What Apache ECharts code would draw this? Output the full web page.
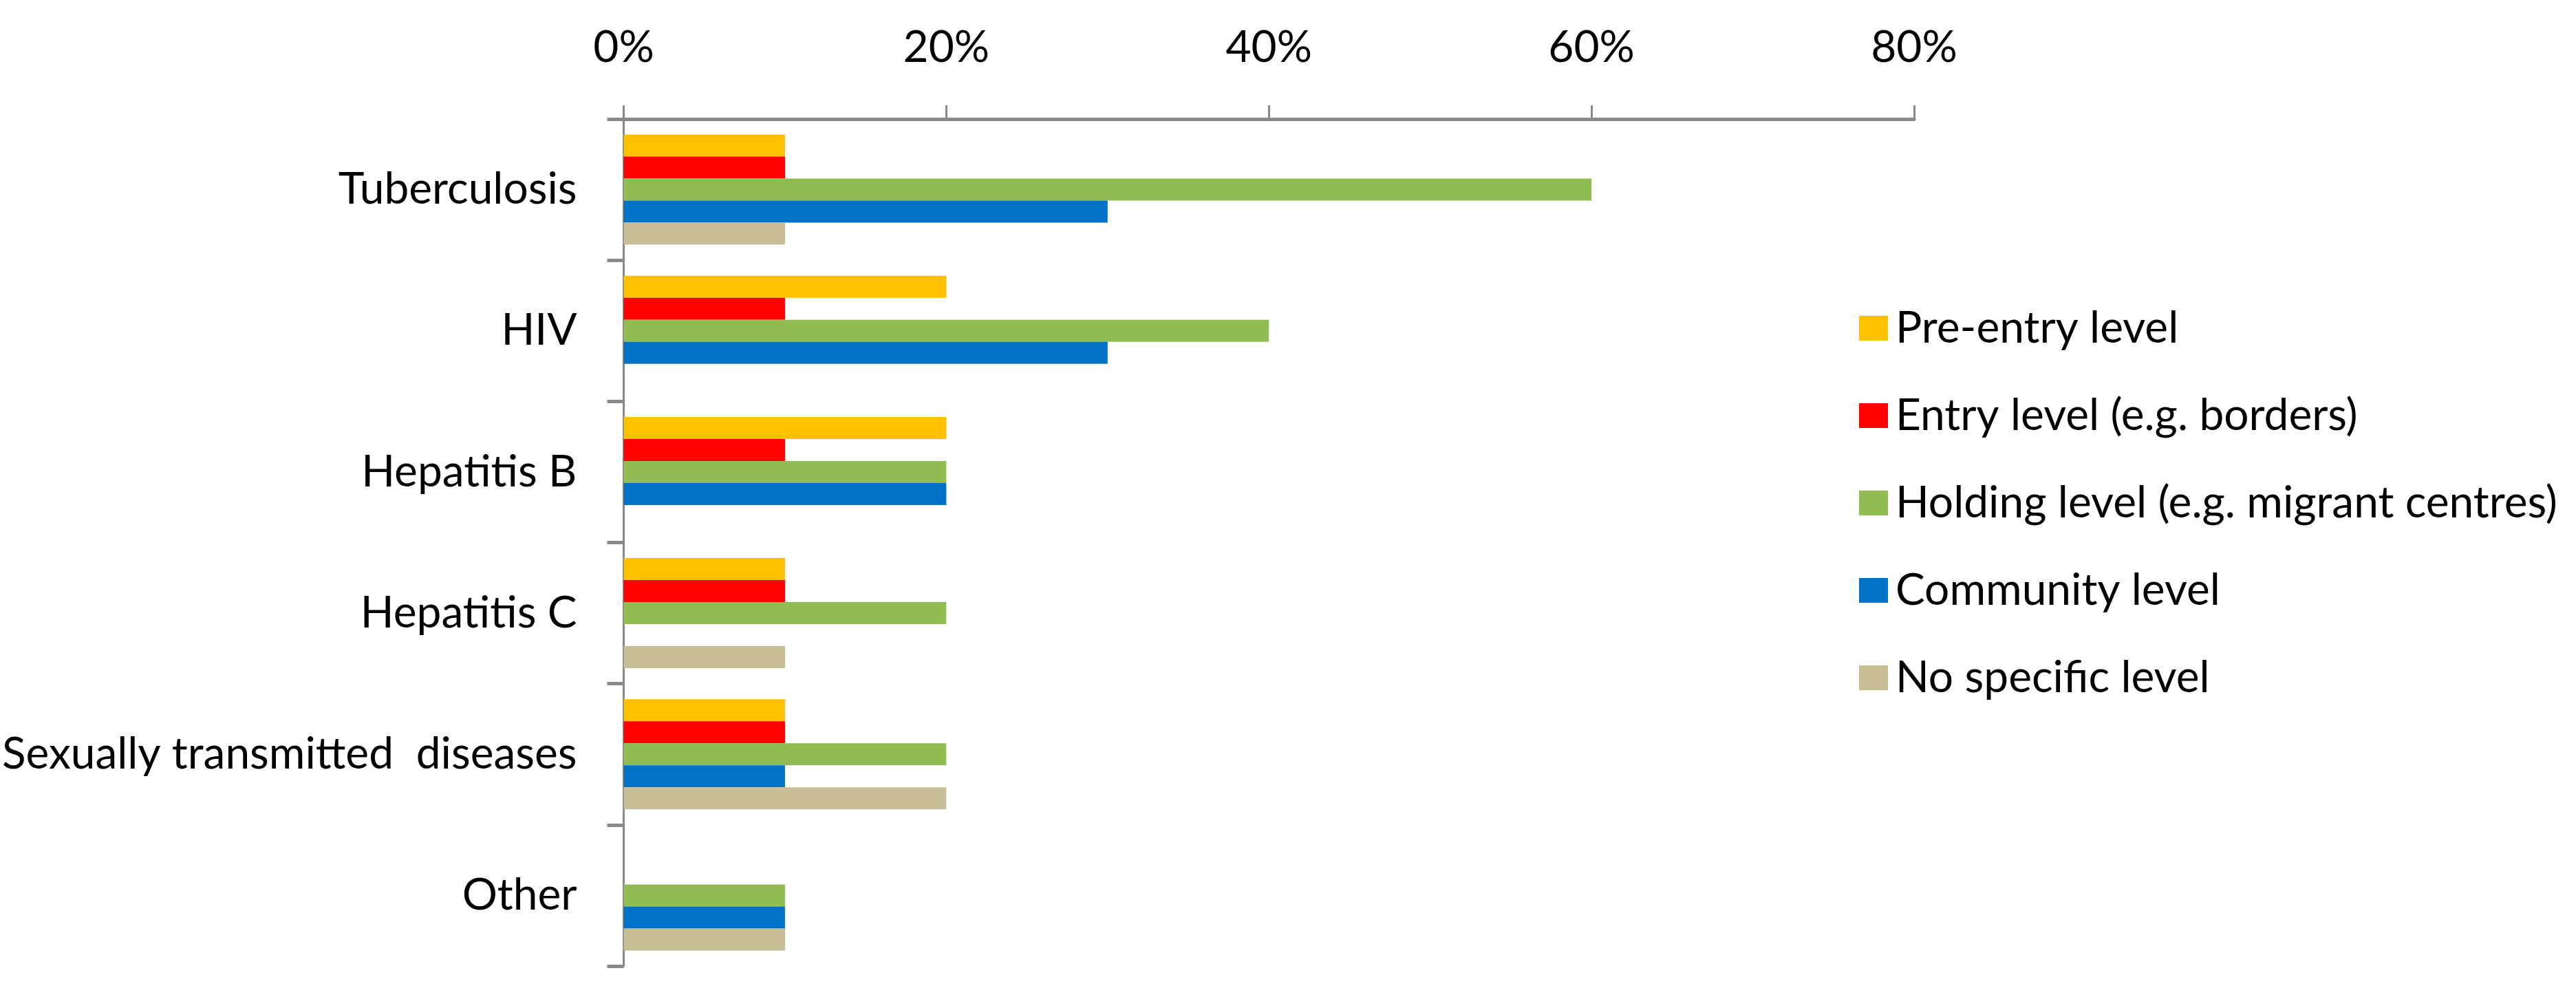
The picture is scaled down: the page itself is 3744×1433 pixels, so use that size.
<!DOCTYPE html>
<html>
<head>
<meta charset="utf-8">
<script src="https://cdn.jsdelivr.net/npm/echarts@6/dist/echarts.min.js"></script>
<style>
html,body{margin:0;padding:0;background:#fff;}
#chart{width:3744px;height:1433px;}
</style>
</head>
<body>
<div id="chart"></div>
<script>
const categories = ['Tuberculosis', 'HIV', 'Hepatitis B', 'Hepatitis C', 'Sexually transmitted  diseases', 'Other'];
const seriesNames = ['Pre-entry level', 'Entry level (e.g. borders)', 'Holding level (e.g. migrant centres)', 'Community level', 'No specific level'];
const preEntry = [0.10, 0.20, 0.20, 0.10, 0.10, null];
const entry = [0.10, 0.10, 0.10, 0.10, 0.10, null];
const holding = [0.60, 0.40, 0.20, 0.20, 0.20, 0.10];
const community = [0.30, 0.30, 0.20, null, 0.10, 0.10];
const noSpecific = [0.10, null, null, 0.10, 0.20, 0.10];
const xTicks = [0, 0.2, 0.4, 0.6, 0.8];

const colors = ['#FFC000', '#FF0000', '#8FBD51', '#0071C5', '#C7BE96'];
const dataSets = [preEntry, entry, holding, community, noSpecific];
const FONT = 'Lato, "Open Sans", sans-serif';

const chart = echarts.init(document.getElementById('chart'));
chart.setOption({
  animation: false,
  backgroundColor: '#ffffff',
  grid: { left: 903, right: 962, top: 173, bottom: 29, containLabel: false },
  legend: {
    orient: 'vertical',
    left: 2697,
    top: 440,
    icon: 'rect',
    itemWidth: 42,
    itemHeight: 36,
    itemGap: 63,
    textStyle: { fontFamily: FONT, fontSize: 64, color: '#000', lineHeight: 36, padding: [0, 0, 0, 6] },
    data: seriesNames
  },
  xAxis: {
    type: 'value',
    position: 'top',
    min: xTicks[0],
    max: xTicks[xTicks.length - 1],
    interval: 0.2,
    splitLine: { show: false },
    axisLine: { show: true, lineStyle: { color: '#898989', width: 5 } },
    axisTick: { show: true, length: 20, lineStyle: { color: '#898989', width: 3 } },
    axisLabel: {
      margin: 72,
      fontFamily: FONT, fontSize: 64, color: '#000',
      formatter: v => Math.round(v * 100) + '%'
    }
  },
  yAxis: {
    type: 'category',
    inverse: true,
    data: categories,
    axisLine: { show: true, lineStyle: { color: '#898989', width: 3 } },
    axisTick: { show: true, length: 24, lineStyle: { color: '#898989', width: 5 } },
    axisLabel: { margin: 68, fontFamily: FONT, fontSize: 64, color: '#000' }
  },
  series: seriesNames.map((name, i) => ({
    name: name,
    type: 'bar',
    data: dataSets[i],
    barGap: '0%',
    barCategoryGap: '22%',
    itemStyle: { color: colors[i] }
  }))
});
</script>
</body>
</html>
